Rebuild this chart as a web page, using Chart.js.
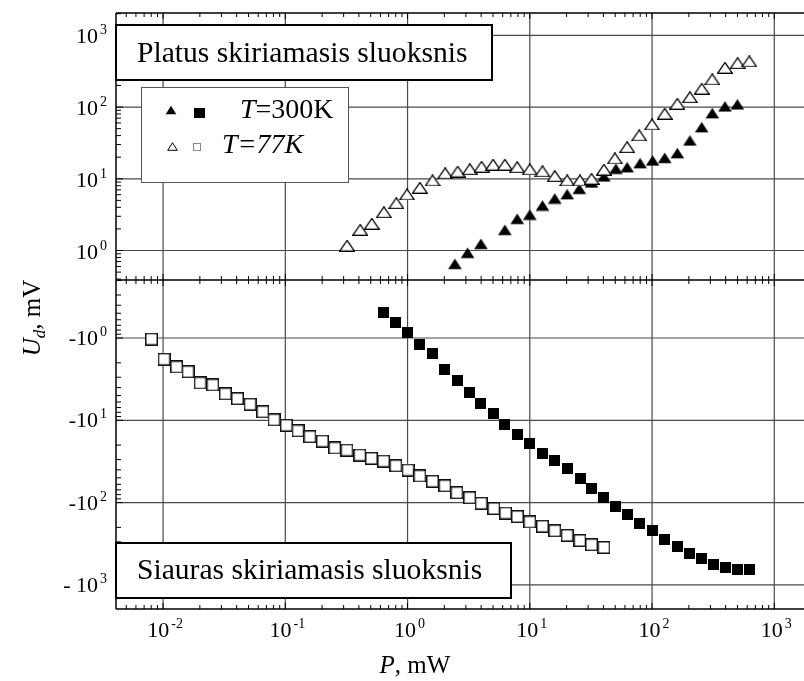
<!DOCTYPE html>
<html>
<head>
<meta charset="utf-8">
<script src="https://cdn.jsdelivr.net/npm/chart.js@4.4.1/dist/chart.umd.min.js"></script>
<style>
  html, body { margin: 0; padding: 0; background: #fff; overflow: hidden; }
  #plot { display: block; }
</style>
</head>
<body>
<canvas id="plot" width="804" height="681"></canvas>
<script>
// Platus skiriamasis sluoksnis (U > 0), P in mW, U in mV
const p77Wide = [0.32, 0.41, 0.51, 0.64, 0.81, 0.99, 1.26, 1.6, 2.03, 2.57, 3.23, 4.03, 5.01, 6.25, 7.89, 10.0, 12.7, 16.0, 20.2, 25.7, 32.0, 40.4, 49.6, 62.6, 78.5, 100, 127, 161, 204, 255, 311, 395, 501, 624];
const u77Wide = [1.17, 1.94, 2.36, 3.42, 4.57, 6.04, 7.49, 9.47, 11.9, 12.6, 13.6, 14.7, 15.7, 15.7, 14.5, 13.5, 12.7, 10.9, 9.47, 9.47, 10.0, 13.4, 19.2, 27.6, 40.2, 57.2, 80.7, 111, 137, 180, 243, 353, 409, 433];
const p300Wide = [2.44, 3.10, 3.98, 6.25, 7.89, 10.0, 12.7, 16.0, 20.2, 25.4, 32.0, 40.4, 50.6, 62.6, 79.8, 101, 127, 161, 204, 255, 311, 395, 499];
const u300Wide = [0.652, 0.929, 1.24, 1.94, 2.77, 3.16, 4.24, 5.31, 6.10, 7.26, 8.88, 10.8, 13.8, 14.5, 16.5, 18.0, 19.6, 22.8, 34.2, 52.4, 82.2, 102, 109];

// Siauras skiriamasis sluoksnis (U < 0)
const p77Narrow = [0.00804, 0.0102, 0.0129, 0.016, 0.0201, 0.0255, 0.0323, 0.0406, 0.0515, 0.0654, 0.0809, 0.102, 0.127, 0.159, 0.201, 0.254, 0.319, 0.407, 0.506, 0.637, 0.802, 1.01, 1.26, 1.6, 2.02, 2.53, 3.22, 4.0, 5.08, 6.34, 7.92, 10.0, 12.7, 16.0, 20.2, 25.7, 32.0, 40.4];
const u77Narrow = [-1.03, -1.81, -2.25, -2.57, -3.52, -3.72, -4.77, -5.46, -6.39, -7.88, -9.87, -11.5, -13.4, -15.8, -17.9, -21.7, -23.0, -26.4, -29.0, -31.3, -35.7, -40.2, -47.5, -55.1, -62.5, -75.8, -87.2, -102, -118, -134, -148, -172, -194, -220, -250, -289, -325, -351];
const p300Narrow = [0.64, 0.802, 0.996, 1.26, 1.59, 2.02, 2.55, 3.23, 3.98, 5.02, 6.25, 7.89, 10.0, 12.6, 16.0, 20.2, 25.9, 32.0, 40.2, 50.5, 62.9, 79.2, 100, 127, 161, 204, 255, 317, 400, 498, 624];
const u300Narrow = [-0.49, -0.648, -0.857, -1.21, -1.55, -2.40, -3.30, -4.53, -6.22, -8.38, -11.1, -14.8, -19.0, -25.2, -30.4, -39.0, -50.7, -67.0, -86.7, -111, -138, -177, -220, -277, -337, -421, -481, -558, -611, -646, -646];

// decade exponents that get a grid line and a label
const xTickExps = [-2, -1, 0, 1, 2, 3];
const yTopExps = [0, 1, 2, 3];
const yBotExps = [0, 1, 2, 3];

const FONT = '"Liberation Serif", "Times New Roman", serif';

// marker bitmaps
function marker(w, h, draw) {
  const c = document.createElement('canvas');
  c.width = w; c.height = h;
  draw(c.getContext('2d'), w, h);
  return c;
}
function triangle(w, h, filled, line) {
  return marker(w, h, (g) => {
    g.beginPath();
    g.moveTo(w / 2, 0.7);
    g.lineTo(w - 0.7, h - 0.7);
    g.lineTo(0.7, h - 0.7);
    g.closePath();
    if (filled) { g.fillStyle = '#000'; g.fill(); }
    else { g.fillStyle = '#fff'; g.fill(); g.strokeStyle = '#000'; g.lineWidth = line; g.stroke(); }
  });
}
function square(w, h, filled, line, color) {
  return marker(w, h, (g) => {
    if (filled) { g.fillStyle = '#000'; g.fillRect(0, 0, w, h); return; }
    g.fillStyle = '#fff'; g.fillRect(0, 0, w, h);
    g.strokeStyle = color || '#111'; g.lineWidth = line;
    g.strokeRect(line / 2, line / 2, w - line, h - line);
  });
}
const triOpen = triangle(16, 12, false, 1.3);
const triFull = triangle(15, 12, true);
const sqOpen = square(13, 13, false, 1.5);
const sqFull = square(11, 11, true);

const pts = (xs, ys) => xs.map((p, i) => ({ x: p, y: ys[i] }));

function logSteps(scale) {
  const out = [];
  const lo = Math.floor(Math.log10(scale.min)), hi = Math.ceil(Math.log10(scale.max));
  for (let d = lo; d <= hi; d++) {
    for (let m = 1; m <= 9; m++) {
      const v = m * Math.pow(10, d);
      if (v > scale.min && v < scale.max) out.push([v, m === 1]);
    }
  }
  return out;
}

// "10" with a raised exponent, optional leading sign
function powerLabel(ctx, x, y, exp, align, prefix) {
  const sup = String(exp);
  ctx.font = `22px ${FONT}`;
  const wp = prefix ? ctx.measureText(prefix).width : 0;
  const wb = ctx.measureText('10').width;
  ctx.font = `14px ${FONT}`;
  const ws = ctx.measureText(sup).width;
  const total = wp + wb + 2 + ws;
  const x0 = align === 'right' ? x - total : x - total / 2;
  ctx.textAlign = 'left';
  ctx.textBaseline = 'alphabetic';
  ctx.font = `22px ${FONT}`;
  if (prefix) ctx.fillText(prefix, x0, y);
  ctx.fillText('10', x0 + wp, y);
  ctx.font = `14px ${FONT}`;
  ctx.fillText(sup, x0 + wp + wb + 2, y - 9);
}

function textBox(ctx, x0, y0, x1, y1, text, tx, ty) {
  ctx.fillStyle = '#fff';
  ctx.fillRect(x0, y0, x1 - x0, y1 - y0);
  ctx.strokeStyle = '#000';
  ctx.lineWidth = 2;
  ctx.strokeRect(x0, y0, x1 - x0, y1 - y0);
  ctx.fillStyle = '#000';
  ctx.font = `29.6px ${FONT}`;
  ctx.textAlign = 'left';
  ctx.textBaseline = 'alphabetic';
  ctx.fillText(text, tx, ty);
}

const frame = {
  id: 'frame',
  beforeDraw(chart) {
    const { ctx, width, height } = chart;
    ctx.save();
    ctx.fillStyle = '#fff';
    ctx.fillRect(0, 0, width, height);
    ctx.restore();
  },
  beforeDatasetsDraw(chart) {
    const { ctx, chartArea: a, scales: { x, yTop, yBot } } = chart;
    const mid = yTop.bottom;
    ctx.save();
    // decade grid
    ctx.strokeStyle = '#4a4a4a';
    ctx.lineWidth = 1.2;
    ctx.beginPath();
    xTickExps.forEach(e => {
      const px = x.getPixelForValue(Math.pow(10, e));
      ctx.moveTo(px, a.top); ctx.lineTo(px, a.bottom);
    });
    yTopExps.forEach(e => {
      const py = yTop.getPixelForValue(Math.pow(10, e));
      ctx.moveTo(a.left, py); ctx.lineTo(a.right, py);
    });
    yBotExps.forEach(e => {
      const py = yBot.getPixelForValue(Math.pow(10, e));
      ctx.moveTo(a.left, py); ctx.lineTo(a.right, py);
    });
    ctx.stroke();
    // frame lines
    ctx.strokeStyle = '#000';
    ctx.lineWidth = 1.5;
    ctx.beginPath();
    ctx.moveTo(a.left, a.top); ctx.lineTo(a.left, a.bottom);
    ctx.moveTo(a.left, a.top); ctx.lineTo(a.right, a.top);
    ctx.moveTo(a.left, mid); ctx.lineTo(a.right, mid);
    ctx.moveTo(a.left, a.bottom); ctx.lineTo(a.right, a.bottom);
    ctx.stroke();
    // tick marks
    ctx.lineWidth = 1;
    ctx.beginPath();
    logSteps(x).forEach(([v, major]) => {
      const px = x.getPixelForValue(v);
      const len = major ? 6 : 4;
      ctx.moveTo(px, a.top); ctx.lineTo(px, a.top + len);
      ctx.moveTo(px, mid - len); ctx.lineTo(px, mid + len);
      ctx.moveTo(px, a.bottom); ctx.lineTo(px, a.bottom - len);
    });
    [yTop, yBot].forEach(s => logSteps(s).forEach(([v, major]) => {
      const py = s.getPixelForValue(v);
      ctx.moveTo(a.left, py); ctx.lineTo(a.left + (major ? 7 : 5), py);
    }));
    ctx.stroke();
    ctx.restore();
  },
  afterDatasetsDraw(chart) {
    const { ctx, chartArea: a, scales: { x, yTop, yBot } } = chart;
    ctx.save();
    ctx.fillStyle = '#000';

    // tick labels
    yTopExps.forEach(e => powerLabel(ctx, 107, yTop.getPixelForValue(Math.pow(10, e)) + 8, e, 'right'));
    yBotExps.forEach(e => powerLabel(ctx, 107, yBot.getPixelForValue(Math.pow(10, e)) + 7, e, 'right', e === 3 ? '- ' : '-'));
    xTickExps.forEach(e => powerLabel(ctx, x.getPixelForValue(Math.pow(10, e)) + 2, a.bottom + 28, e, 'center'));

    // panel captions
    textBox(ctx, a.left, 25, 492, 80, 'Platus skiriamasis sluoksnis', 137, 62);
    textBox(ctx, a.left, 543, 511, 598, 'Siauras skiriamasis sluoksnis', 137, 579);

    // legend
    ctx.fillStyle = '#fff';
    ctx.fillRect(141, 87, 208, 96);
    ctx.strokeStyle = '#555';
    ctx.lineWidth = 1;
    ctx.strokeRect(141.5, 87.5, 207, 95);
    ctx.drawImage(triangle(12, 10, true), 165, 105);
    ctx.drawImage(square(11, 10, true), 194, 108);
    ctx.drawImage(triangle(11, 9, false, 1), 167, 142);
    ctx.drawImage(square(8, 8, false, 1, '#888'), 193, 143);
    ctx.fillStyle = '#000';
    ctx.textAlign = 'left';
    ctx.font = `italic 28px ${FONT}`;
    ctx.fillText('T', 240, 118);
    const wT = ctx.measureText('T').width;
    ctx.font = `28px ${FONT}`;
    ctx.fillText('=300K', 240 + wT, 118);
    ctx.font = `italic 28px ${FONT}`;
    ctx.fillText('T=77K', 222, 153);

    // x axis title
    ctx.font = `italic 25px ${FONT}`;
    const wP = ctx.measureText('P').width;
    ctx.font = `25px ${FONT}`;
    const wRest = ctx.measureText(', mW').width;
    let tx = 415 - (wP + wRest) / 2;
    ctx.font = `italic 25px ${FONT}`;
    ctx.fillText('P', tx, 673);
    ctx.font = `25px ${FONT}`;
    ctx.fillText(', mW', tx + wP, 673);

    // y axis title, rotated
    ctx.translate(40, 318);
    ctx.rotate(-Math.PI / 2);
    ctx.font = `italic 25px ${FONT}`;
    const wU = ctx.measureText('U').width;
    ctx.font = `italic 17px ${FONT}`;
    const wd = ctx.measureText('d').width;
    ctx.font = `25px ${FONT}`;
    const wmv = ctx.measureText(', mV').width;
    tx = -(wU + wd + wmv) / 2;
    ctx.font = `italic 25px ${FONT}`;
    ctx.fillText('U', tx, 0);
    ctx.font = `italic 17px ${FONT}`;
    ctx.fillText('d', tx + wU, 5);
    ctx.font = `25px ${FONT}`;
    ctx.fillText(', mV', tx + wU + wd, 0);
    ctx.restore();
  }
};

new Chart(document.getElementById('plot'), {
  type: 'scatter',
  data: {
    datasets: [
      { label: 'T=77K', data: pts(p77Wide, u77Wide), yAxisID: 'yTop', pointStyle: triOpen, order: 1 },
      { label: 'T=300K', data: pts(p300Wide, u300Wide), yAxisID: 'yTop', pointStyle: triFull, order: 2 },
      { label: 'T=77K', data: pts(p77Narrow, u77Narrow.map(v => -v)), yAxisID: 'yBot', pointStyle: sqOpen, order: 1 },
      { label: 'T=300K', data: pts(p300Narrow, u300Narrow.map(v => -v)), yAxisID: 'yBot', pointStyle: sqFull, order: 2 }
    ]
  },
  options: {
    responsive: false,
    animation: false,
    devicePixelRatio: 1,
    clip: false,
    layout: { padding: { left: 116, top: 13, right: 0, bottom: 72 }, autoPadding: false },
    plugins: { legend: { display: false }, tooltip: { enabled: false } },
    elements: { point: { radius: 6, hoverRadius: 6 } },
    scales: {
      x: { type: 'logarithmic', min: Math.pow(10, -2.385), max: Math.pow(10, 3.243), display: false },
      yTop: {
        type: 'logarithmic', position: 'left', stack: 'u', stackWeight: 267, weight: 2,
        min: Math.pow(10, -0.411), max: Math.pow(10, 3.311), display: false
      },
      yBot: {
        type: 'logarithmic', position: 'left', stack: 'u', stackWeight: 329, weight: 1, reverse: true,
        min: Math.pow(10, -0.705), max: Math.pow(10, 3.293), display: false
      }
    }
  },
  plugins: [frame]
});
</script>
</body>
</html>
